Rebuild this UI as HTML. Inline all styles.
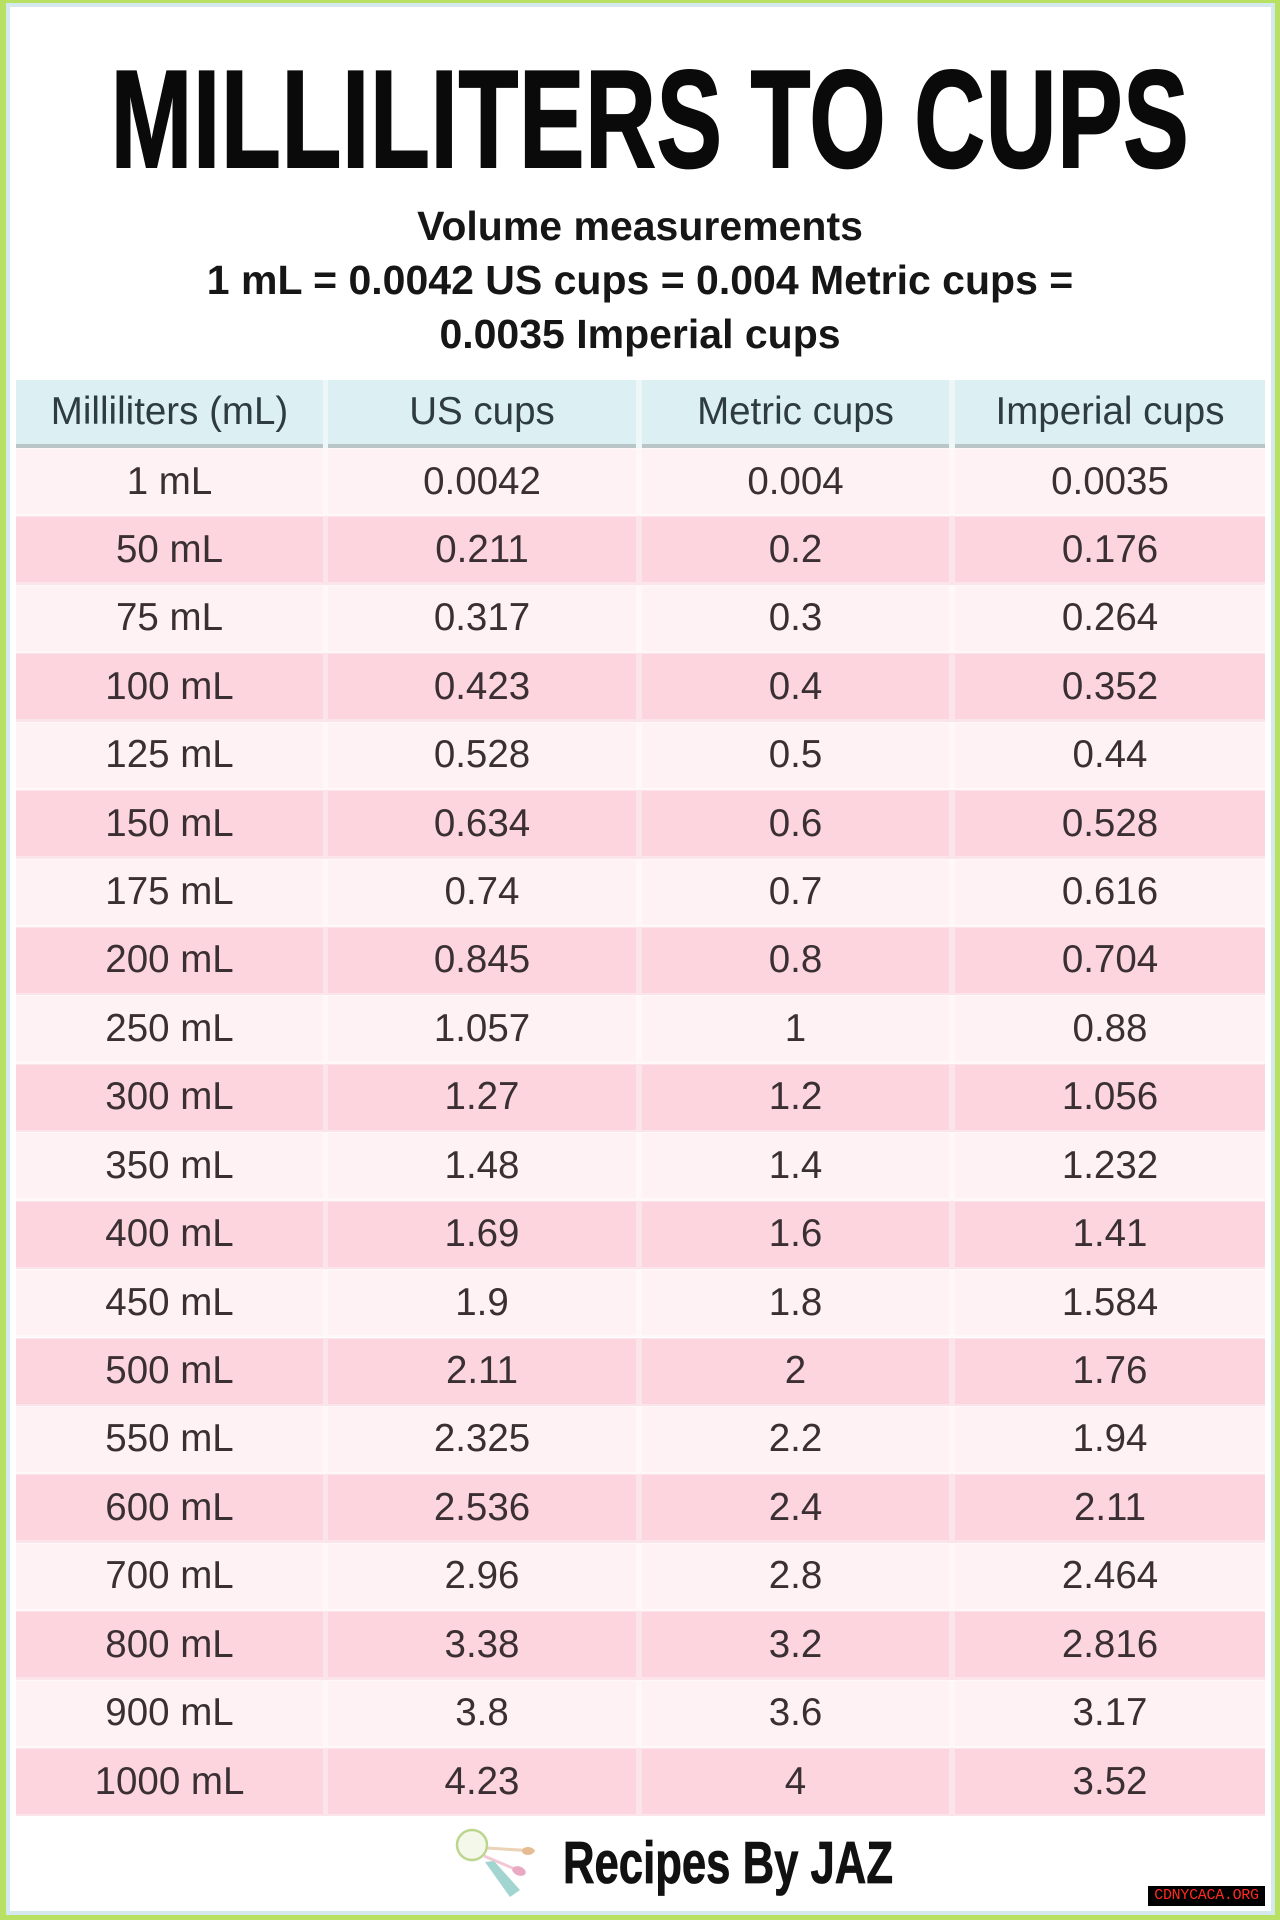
<!DOCTYPE html>
<html>
<head>
<meta charset="utf-8">
<style>
  html,body{margin:0;padding:0;}
  body{width:1280px;height:1920px;background:#b8e063;position:relative;overflow:hidden;font-family:"Liberation Sans",Arial,sans-serif;}
  .frame{position:absolute;left:6px;top:3px;width:1269px;height:1912px;box-sizing:border-box;border:4px solid #d3e9ed;background:#fff;}
  .title{position:absolute;left:-150px;width:1600px;top:50px;font-size:139px;line-height:139px;font-weight:bold;text-align:center;color:#0a0a0a;transform:scaleX(0.705);transform-origin:50% 50%;white-space:nowrap;-webkit-text-stroke:2px #0a0a0a;letter-spacing:1px;}
  .sub{position:absolute;left:0;width:1280px;top:199px;font-size:41px;line-height:54px;font-weight:bold;text-align:center;color:#161616;}
  .row{position:absolute;left:16px;width:1249px;height:68.42px;}
  .cell{position:absolute;top:1px;height:65px;display:flex;align-items:center;justify-content:center;font-size:38.5px;color:#3a3034;white-space:nowrap;}
  .c1{left:0;width:307px;}
  .c2{left:312px;width:308px;}
  .c3{left:626px;width:307px;}
  .c4{left:939px;width:310px;}
  .lt{background:#fff8f9;}
  .lt .cell{background:#fff2f4;}
  .pk{background:#fbe4ea;}
  .pk .cell{background:#fcd5df;}
  .hdr{position:absolute;left:16px;top:380px;width:1249px;height:68px;background:#eef7f8;}
  .hdr .cell{top:0;height:64px;background:#dcf0f3;border-bottom:4px solid #b9c5c7;color:#2e3c40;}
  .logo{position:absolute;left:563px;top:1834px;font-size:59px;line-height:59px;font-weight:bold;color:#111;transform:scaleX(0.74);transform-origin:0 0;white-space:nowrap;-webkit-text-stroke:0.8px #111;}
  .wm{position:absolute;left:1148px;top:1886px;width:117px;height:20px;background:#000;color:#ff2a1f;font-family:"Liberation Mono",monospace;font-size:15px;line-height:20px;text-align:center;letter-spacing:-0.3px;}
</style>
</head>
<body>
<div class="frame"></div>
<div class="title">MILLILITERS TO CUPS</div>
<div class="sub">Volume measurements<br>1 mL = 0.0042 US cups = 0.004 Metric cups =<br>0.0035 Imperial cups</div>

<div class="hdr">
  <div class="cell c1">Milliliters (mL)</div>
  <div class="cell c2">US cups</div>
  <div class="cell c3">Metric cups</div>
  <div class="cell c4">Imperial cups</div>
</div>

<div class="row lt" style="top:448px"><div class="cell c1">1 mL</div><div class="cell c2">0.0042</div><div class="cell c3">0.004</div><div class="cell c4">0.0035</div></div>
<div class="row pk" style="top:516.4px"><div class="cell c1">50 mL</div><div class="cell c2">0.211</div><div class="cell c3">0.2</div><div class="cell c4">0.176</div></div>
<div class="row lt" style="top:584.8px"><div class="cell c1">75 mL</div><div class="cell c2">0.317</div><div class="cell c3">0.3</div><div class="cell c4">0.264</div></div>
<div class="row pk" style="top:653.3px"><div class="cell c1">100 mL</div><div class="cell c2">0.423</div><div class="cell c3">0.4</div><div class="cell c4">0.352</div></div>
<div class="row lt" style="top:721.7px"><div class="cell c1">125 mL</div><div class="cell c2">0.528</div><div class="cell c3">0.5</div><div class="cell c4">0.44</div></div>
<div class="row pk" style="top:790.1px"><div class="cell c1">150 mL</div><div class="cell c2">0.634</div><div class="cell c3">0.6</div><div class="cell c4">0.528</div></div>
<div class="row lt" style="top:858.5px"><div class="cell c1">175 mL</div><div class="cell c2">0.74</div><div class="cell c3">0.7</div><div class="cell c4">0.616</div></div>
<div class="row pk" style="top:926.9px"><div class="cell c1">200 mL</div><div class="cell c2">0.845</div><div class="cell c3">0.8</div><div class="cell c4">0.704</div></div>
<div class="row lt" style="top:995.4px"><div class="cell c1">250 mL</div><div class="cell c2">1.057</div><div class="cell c3">1</div><div class="cell c4">0.88</div></div>
<div class="row pk" style="top:1063.8px"><div class="cell c1">300 mL</div><div class="cell c2">1.27</div><div class="cell c3">1.2</div><div class="cell c4">1.056</div></div>
<div class="row lt" style="top:1132.2px"><div class="cell c1">350 mL</div><div class="cell c2">1.48</div><div class="cell c3">1.4</div><div class="cell c4">1.232</div></div>
<div class="row pk" style="top:1200.6px"><div class="cell c1">400 mL</div><div class="cell c2">1.69</div><div class="cell c3">1.6</div><div class="cell c4">1.41</div></div>
<div class="row lt" style="top:1269px"><div class="cell c1">450 mL</div><div class="cell c2">1.9</div><div class="cell c3">1.8</div><div class="cell c4">1.584</div></div>
<div class="row pk" style="top:1337.5px"><div class="cell c1">500 mL</div><div class="cell c2">2.11</div><div class="cell c3">2</div><div class="cell c4">1.76</div></div>
<div class="row lt" style="top:1405.9px"><div class="cell c1">550 mL</div><div class="cell c2">2.325</div><div class="cell c3">2.2</div><div class="cell c4">1.94</div></div>
<div class="row pk" style="top:1474.3px"><div class="cell c1">600 mL</div><div class="cell c2">2.536</div><div class="cell c3">2.4</div><div class="cell c4">2.11</div></div>
<div class="row lt" style="top:1542.7px"><div class="cell c1">700 mL</div><div class="cell c2">2.96</div><div class="cell c3">2.8</div><div class="cell c4">2.464</div></div>
<div class="row pk" style="top:1611.1px"><div class="cell c1">800 mL</div><div class="cell c2">3.38</div><div class="cell c3">3.2</div><div class="cell c4">2.816</div></div>
<div class="row lt" style="top:1679.6px"><div class="cell c1">900 mL</div><div class="cell c2">3.8</div><div class="cell c3">3.6</div><div class="cell c4">3.17</div></div>
<div class="row pk" style="top:1748px"><div class="cell c1">1000 mL</div><div class="cell c2">4.23</div><div class="cell c3">4</div><div class="cell c4">3.52</div></div>

<svg style="position:absolute;left:440px;top:1820px" width="110" height="90" viewBox="0 0 110 90">
  <line x1="47" y1="28" x2="95" y2="31" stroke="#ecd2b6" stroke-width="3"/>
  <ellipse cx="88" cy="31" rx="6" ry="4" fill="#e6bc92"/>
  <line x1="44" y1="36" x2="82" y2="52" stroke="#f2c8d6" stroke-width="3"/>
  <ellipse cx="79" cy="51" rx="7" ry="4.5" fill="#e9a9c2" transform="rotate(20 79 51)"/>
  <polygon points="45,42 54,41 80,70 70,77" fill="#a2d5cf"/>
  <circle cx="32" cy="25" r="15" fill="#f4f8ea" stroke="#bcd68e" stroke-width="2.5"/>
</svg>
<div class="logo">Recipes By JAZ</div>
<div class="wm">CDNYCACA.ORG</div>
</body>
</html>
